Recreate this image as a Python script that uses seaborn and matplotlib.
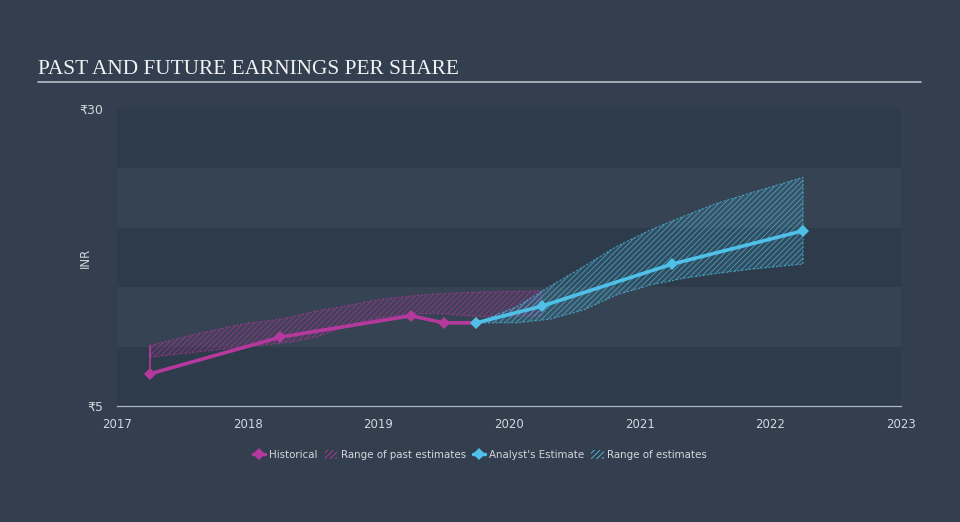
import matplotlib
matplotlib.use("Agg")
import matplotlib.pyplot as plt
import seaborn as sns
import pandas as pd
from matplotlib.lines import Line2D
from matplotlib.patches import Patch

# ---- data ----
hist_x = [2017.25, 2018.25, 2019.25, 2019.5, 2019.75]
hist_y = [7.7, 10.8, 12.6, 12.0, 12.0]

est_x = [2019.75, 2020.25, 2021.25, 2022.25]
est_y = [12.0, 13.4, 16.95, 19.75]

past_rng_x = [2017.25, 2017.63, 2017.99, 2018.25, 2018.4, 2018.53, 2018.79, 2018.91, 2019.04, 2019.25, 2019.42, 2019.8, 2019.93, 2020.25]
past_rng_lo = [9.1, 9.57, 10.0, 10.27, 10.5, 10.83, 11.82, 12.2, 12.47, 12.75, 12.8, 12.52, 12.55, 12.6]
past_rng_hi = [10.08, 11.12, 11.96, 12.3, 12.66, 13.0, 13.5, 13.78, 14.0, 14.25, 14.43, 14.6, 14.62, 14.7]

fut_rng_x = [2019.75, 2020.06, 2020.31, 2020.57, 2020.82, 2021.08, 2021.33, 2021.59, 2021.84, 2022.25]
fut_rng_lo = [12.0, 12.01, 12.3, 13.08, 14.34, 15.18, 15.74, 16.16, 16.5, 16.95]
fut_rng_hi = [12.0, 13.36, 15.05, 16.73, 18.41, 19.81, 20.94, 22.06, 22.9, 24.24]

years = [2017, 2018, 2019, 2020, 2021, 2022, 2023]
y_ticks = [5, 30]
bands = [(5, 10), (15, 20), (25, 30)]
title = "PAST AND FUTURE EARNINGS PER SHARE"

# ---- style ----
BG = "#333f4f"
BAND = "#2e3b4a"
LIGHT = "#354352"
PINK = "#b5399d"
CYAN = "#4fc0e8"
TXT = "#d3d7dc"

sns.set_theme(style="dark")
plt.rcParams["font.family"] = ["DejaVu Sans"]
plt.rcParams["hatch.linewidth"] = 0.6

fig = plt.figure(figsize=(9.6, 5.22), dpi=100, facecolor=BG)
ax = fig.add_axes([117/960, 1-406/522, 784/960, 297/522])
ax.set_facecolor(LIGHT)

for lo, hi in bands:
    ax.axhspan(lo, hi, color=BAND, zorder=0, lw=0)

# ranges
ax.fill_between(past_rng_x, past_rng_lo, past_rng_hi, facecolor=PINK + "1c",
                edgecolor=PINK + "a0", hatch="//////", linewidth=0.8, linestyle=(0, (2, 1.5)), zorder=2)
ax.fill_between(fut_rng_x, fut_rng_lo, fut_rng_hi, facecolor=CYAN + "22",
                edgecolor=CYAN + "b0", hatch="//////", linewidth=0.8, linestyle=(0, (2, 1.5)), zorder=2)
ax.vlines(hist_x[0], hist_y[0], past_rng_hi[0], color=PINK, lw=1.2, zorder=3)

df_h = pd.DataFrame({"x": hist_x, "y": hist_y})
df_e = pd.DataFrame({"x": est_x, "y": est_y})
sns.lineplot(data=df_h, x="x", y="y", ax=ax, color=PINK, lw=2.6, marker="D",
             markersize=6.5, markeredgewidth=0, zorder=4)
sns.lineplot(data=df_e, x="x", y="y", ax=ax, color=CYAN, lw=2.6, marker="D",
             markersize=6.5, markeredgewidth=0, zorder=5)

ax.set_xlim(years[0], years[-1])
ax.set_ylim(y_ticks[0], y_ticks[-1])
ax.set_xticks(years)
ax.set_xticklabels([str(y) for y in years], color=TXT, fontsize=8.5)
ax.set_yticks(y_ticks)
ax.set_yticklabels(["₹%d" % v for v in y_ticks], color=TXT, fontsize=9)
ax.tick_params(axis="x", length=8, width=0.8, color="#aeb6bf", direction="out", pad=1)
ax.tick_params(axis="y", length=0, pad=10)
ax.set_xlabel("")
ax.set_ylabel("INR", color=TXT, fontsize=8.5)
ax.yaxis.set_label_coords(-0.032, 0.5)
for s in ["top", "right", "left"]:
    ax.spines[s].set_visible(False)
ax.spines["bottom"].set_color("#aeb6bf")
ax.spines["bottom"].set_linewidth(0.9)
ax.grid(False)

# title + rule
fig.text(38/960, 1-74/522, title, family=["Liberation Serif"], fontsize=15.3,
         color="#f0f2f4", va="baseline", ha="left")
fig.add_artist(Line2D([38/960, 921/960], [1-82/522, 1-82/522], color="#b8bec6", lw=1.2))

handles = [
    Line2D([], [], color=PINK, lw=2.5, marker="D", markersize=6, markeredgewidth=0),
    Patch(facecolor="none", edgecolor=PINK, hatch="//////", lw=0),
    Line2D([], [], color=CYAN, lw=2.5, marker="D", markersize=6, markeredgewidth=0),
    Patch(facecolor="none", edgecolor=CYAN, hatch="//////", lw=0),
]
labels = ["Historical", "Range of past estimates", "Analyst's Estimate", "Range of estimates"]
leg = fig.legend(handles, labels, loc="center", bbox_to_anchor=(0.5, 1-455/522), ncol=4,
                 frameon=False, fontsize=7.4, labelcolor=TXT, handlelength=1.2,
                 handleheight=0.9, handletextpad=0.35, columnspacing=0.7)

fig.savefig("out.png", dpi=100, facecolor=BG)
